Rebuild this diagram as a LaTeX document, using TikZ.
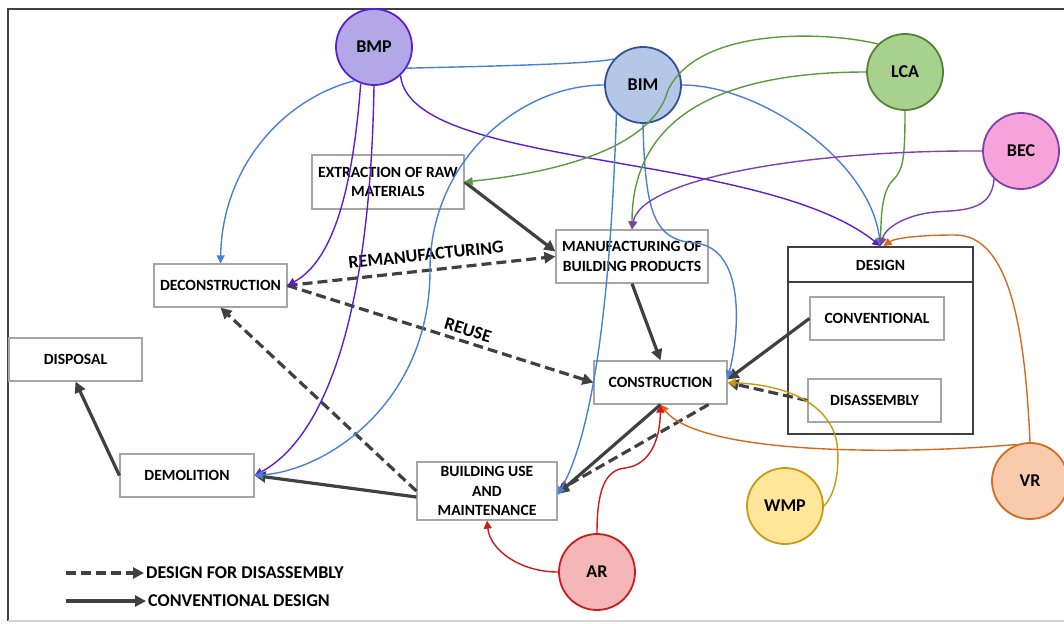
\documentclass[tikz,border=0pt]{standalone}
\usepackage{fontspec}
\setmainfont{Carlito}
\usetikzlibrary{arrows.meta}
\definecolor{arrowgray}{HTML}{404040}
\definecolor{boxgray}{HTML}{A6A6A6}
\definecolor{bmpfill}{HTML}{B4A7E8}
\definecolor{bmpline}{HTML}{5B1FD1}
\definecolor{bimfill}{HTML}{B4C7E7}
\definecolor{bimline}{HTML}{2F528F}
\definecolor{bimedge}{HTML}{4A7FD6}
\definecolor{lcafill}{HTML}{A9D18E}
\definecolor{lcaline}{HTML}{548235}
\definecolor{lcaedge}{HTML}{5B9A3C}
\definecolor{becfill}{HTML}{F6A3DC}
\definecolor{becline}{HTML}{7E3FAF}
\definecolor{vrfill}{HTML}{F8CBAD}
\definecolor{vrline}{HTML}{D46A1E}
\definecolor{wmpfill}{HTML}{FFE699}
\definecolor{wmpline}{HTML}{C99A0E}
\definecolor{arfill}{HTML}{F4B6B6}
\definecolor{arline}{HTML}{CC1A1A}
\begin{document}
\begin{tikzpicture}[x=1pt, y=-1pt,
    stage/.style={draw=boxgray, line width=1.2pt, fill=white, align=center, inner sep=0pt, font=\fontsize{15.6}{19.5}\selectfont\bfseries},
    tool/.style={circle, line width=1.8pt, minimum size=76pt, inner sep=0pt, font=\fontsize{18}{20}\selectfont\bfseries},
    tag/.style={inner sep=2pt, font=\fontsize{18}{20}\selectfont\bfseries},
    solidflow/.style={draw=arrowgray, line width=3.2pt, -{Triangle[length=11pt,width=11pt]}},
    dfdflow/.style={solidflow, dash pattern=on 10pt off 5pt},
    toolflow/.style={line width=1.4pt, -{Triangle[length=8pt,width=8pt]}}]
    \useasboundingbox (0,0) rectangle (1064,623);
    \draw[line width=1.2pt, arrowgray] (1064,9) -- (8,9) -- (8,621);
    \draw[line width=1.2pt, gray!35] (8,621) -- (1064,621);

    \node[stage, minimum width=152pt, minimum height=54pt] (ext) at (388,182) {EXTRACTION OF RAW\\MATERIALS};
    \node[stage, minimum width=133pt, minimum height=43pt] (decon) at (220.5,285.5) {DECONSTRUCTION};
    \node[stage, minimum width=152pt, minimum height=53pt] (manuf) at (632,256.5) {MANUFACTURING OF\\BUILDING PRODUCTS};
    \node[stage, minimum width=133pt, minimum height=43pt] (cons) at (660.5,382.5) {CONSTRUCTION};
    \node[stage, minimum width=133pt, minimum height=43pt] (disp) at (75.5,359.5) {DISPOSAL};
    \node[stage, minimum width=134pt, minimum height=43pt] (demol) at (187,475.5) {DEMOLITION};
    \node[stage, minimum width=140pt, minimum height=58pt] (use) at (487,491) {BUILDING USE\\AND\\MAINTENANCE};
    \node[draw=arrowgray, line width=2pt, minimum width=185pt, minimum height=187pt, inner sep=0pt] (design) at (880.5,340.5) {};
    \draw[arrowgray, line width=1.5pt] (design.north west) ++(0,36) -- ++(185,0);
    \node[stage, draw=none, fill=none] (designlabel) at (880.5,265) {DESIGN};
    \node[stage, minimum width=134pt, minimum height=43pt] (convbox) at (877,318.5) {CONVENTIONAL};
    \node[stage, minimum width=133pt, minimum height=43pt] (disbox) at (874.5,400.5) {DISASSEMBLY};

    \node[tool, draw=bmpline, fill=bmpfill] (bmp) at (374,47) {BMP};
    \node[tool, draw=bimline, fill=bimfill] (bim) at (643,85) {BIM};
    \node[tool, draw=lcaline, fill=lcafill] (lca) at (905,72) {LCA};
    \node[tool, draw=becline, fill=becfill] (bec) at (1021,151) {BEC};
    \node[tool, draw=vrline, fill=vrfill] (vr) at (1030,481) {VR};
    \node[tool, draw=wmpline, fill=wmpfill] (wmp) at (785,506) {WMP};
    \node[tool, draw=arline, fill=arfill] (ar) at (597,572) {AR};

    \draw[solidflow] (ext.east) -- ([yshift=5pt]manuf.west);
    \draw[solidflow] (manuf.south) -- (cons.north);
    \draw[solidflow] (convbox.west) -- ([yshift=3pt]cons.east);
    \draw[solidflow] (cons.south) -- ([yshift=-3pt]use.east);
    \draw[solidflow] ([yshift=-6pt]use.west) -- (demol.east);
    \draw[solidflow] (demol.west) -- (disp.south);
    \draw[dfdflow] (decon.east) -- (manuf.west);
    \draw[dfdflow] (decon.east) -- (cons.west);
    \draw[dfdflow] (use.west) -- (decon.south);
    \draw[dfdflow] (disbox.west) -- (cons.east);
    \draw[dfdflow] ([xshift=48pt]cons.south) -- (use.east);
    \node[tag, rotate=6] (remanlabel) at (426,255) {REMANUFACTURING};
    \node[tag, rotate=-17] (reuselabel) at (468,330) {REUSE};

    \draw[toolflow, bimedge] (bmp.240) .. controls (280,100) and (222,170) .. (decon.north);
    \draw[toolflow, bmpline] (bmp.250) .. controls (352,200) and (330,262) .. (decon.east);
    \draw[toolflow, bmpline] (bmp.south) .. controls (370,330) and (320,440) .. (demol.east);
    \draw[toolflow, bmpline] (bmp.-47) .. controls (410,170) and (760,150) .. (design.north);
    \draw[line width=1.4pt, bimedge] (bmp.-33) .. controls (500,66) and (590,64) .. (bim.138);

    \draw[toolflow, bimedge] (bim.west) .. controls (520,85) and (430,160) .. (430,270) .. controls (430,400) and (330,470) .. (demol.east);
    \draw[toolflow, bimedge] (bim.227) .. controls (612,250) and (600,420) .. ([yshift=-4pt]use.east);
    \draw[toolflow, bimedge] (bim.south) .. controls (645,215) and (655,240) .. (695,243) .. controls (745,248) and (740,330) .. ([yshift=4pt]cons.east);
    \draw[toolflow, bimedge] (bim.east) .. controls (760,85) and (870,160) .. (design.north);

    \draw[toolflow, lcaedge] (lca.134) .. controls (830,32) and (700,25) .. (668,90) .. controls (655,140) and (580,170) .. (ext.east);
    \draw[toolflow, lcaedge] (lca.west) .. controls (700,72) and (632,130) .. (manuf.north);
    \draw[toolflow, lcaedge] (lca.south) .. controls (905,160) and (903,170) .. (893,180) .. controls (883,190) and (881,210) .. (design.north);

    \draw[toolflow, becline] (bec.west) .. controls (800,150) and (640,180) .. (manuf.north);
    \draw[toolflow, becline] (bec.226) .. controls (992,212) and (960,210) .. (935,212) .. controls (905,215) and (885,228) .. (design.north);

    \draw[toolflow, vrline] (vr.north) .. controls (1025,330) and (1010,235) .. (955,235) .. controls (920,235) and (895,238) .. ([xshift=3pt]design.north);
    \draw[toolflow, vrline] (vr.110) .. controls (900,455) and (700,455) .. (cons.south);
    \draw[toolflow, wmpline] (wmp.east) .. controls (840,490) and (840,450) .. (835,435) .. controls (825,405) and (790,385) .. (cons.east);
    \draw[toolflow, arline] (ar.north) .. controls (597,490) and (605,470) .. (625,468) .. controls (650,465) and (660,440) .. (cons.south);
    \draw[toolflow, arline] (ar.west) .. controls (520,572) and (490,550) .. (use.south);

    \coordinate (dfdkey) at (66,573);
    \coordinate (convkey) at (66,601);
    \node[tag, anchor=west] (dfdtext) at (144,573) {DESIGN FOR DISASSEMBLY};
    \node[tag, anchor=west] (convtext) at (146,601) {CONVENTIONAL DESIGN};
    \draw[dfdflow] (dfdkey) -- (dfdtext.west);
    \draw[solidflow] (convkey) -- (convtext.west);
\end{tikzpicture}
\end{document}
